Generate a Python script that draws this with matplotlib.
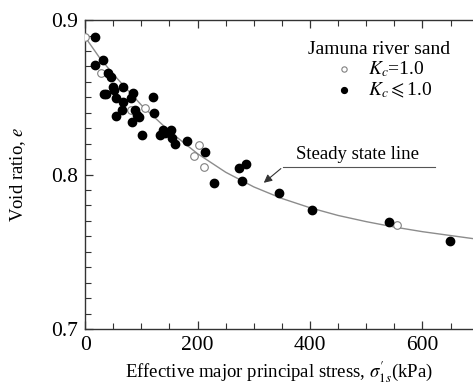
import numpy as np
import matplotlib
matplotlib.use("Agg")
import matplotlib.pyplot as plt
from matplotlib.ticker import MultipleLocator, FormatStrFormatter

plt.rcParams['font.family'] = ['Liberation Serif', 'DejaVu Serif']
plt.rcParams['mathtext.fontset'] = 'stix'

# Kc = 1.0 (open circles)
open_x = [0, 28, 81, 107, 194, 203, 212, 554]
open_y = [0.889, 0.8655, 0.842, 0.8428, 0.812, 0.8191, 0.8047, 0.7671]

# Kc <= 1.0 (filled circles)
fill_x = [17, 17, 31, 40, 46, 50, 52, 67, 85, 33, 37, 55, 67, 81, 120,
          66, 89, 123, 55, 92, 95, 83, 101, 138, 133, 142, 153, 154, 160,
          182, 213, 229, 274, 286, 279, 345, 404, 541, 649]
fill_y = [0.889, 0.871, 0.874, 0.8655, 0.863, 0.8564, 0.8547, 0.8564, 0.853,
          0.852, 0.852, 0.8493, 0.8467, 0.8493, 0.85, 0.8417, 0.842, 0.84,
          0.8379, 0.8385, 0.837, 0.8338, 0.8258, 0.8288, 0.8258, 0.827,
          0.8288, 0.8234, 0.8197, 0.822, 0.8148, 0.7947, 0.804, 0.8068,
          0.7958, 0.788, 0.777, 0.7693, 0.7572]

# steady state line
ssl_x = [0, 25, 50, 100, 150, 200, 250, 300, 350, 400, 450, 500, 550, 600, 650, 690]
ssl_y = [0.889, 0.876, 0.865, 0.845, 0.828, 0.8135, 0.8015, 0.792, 0.7845,
         0.7785, 0.7735, 0.7695, 0.766, 0.763, 0.7605, 0.7585]

fig = plt.figure(figsize=(4.73, 3.87), dpi=100)
ax = fig.add_axes([0.18, 0.15, 0.82, 0.798])

ax.plot(ssl_x, ssl_y, color='#8c8c8c', lw=1.0, zorder=1)
ax.scatter(open_x, open_y, s=30, facecolor='white', edgecolor='#808080',
           linewidth=0.8, zorder=3, label='$K_c$=1.0')
ax.scatter(fill_x, fill_y, s=36, color='black', zorder=3, label=r'$K_c \leqslant$1.0')

# steady state line label with leader
ax.annotate('', xy=(314, 0.7935), xytext=(352, 0.805),
            arrowprops=dict(arrowstyle='-|>', color='#333333', lw=0.8,
                            mutation_scale=12))
ax.plot([352, 622], [0.805, 0.805], color='#555555', lw=0.8, clip_on=False)
ax.text(484, 0.8075, 'Steady state line', fontsize=13.5, ha='center', va='bottom')

ax.set_xlim(0, 690)
ax.set_ylim(0.7, 0.9)
ax.xaxis.set_major_locator(MultipleLocator(200))
ax.xaxis.set_minor_locator(MultipleLocator(50))
ax.yaxis.set_major_locator(MultipleLocator(0.1))
ax.yaxis.set_minor_locator(MultipleLocator(0.01))
ax.yaxis.set_major_formatter(FormatStrFormatter('%.1f'))
ax.tick_params(which='both', direction='in', top=True, right=False,
               labelsize=15.5, color='#333333')
ax.tick_params(which='major', length=6, width=0.9, pad=5)
ax.tick_params(which='minor', length=4, width=0.8)
ax.spines['right'].set_visible(False)
for s in ['left', 'bottom', 'top']:
    ax.spines[s].set_color('#333333')
    ax.spines[s].set_linewidth(1.0)

ax.set_xlabel(r"Effective major principal stress, $\sigma^{\prime}_{1s}$(kPa)", fontsize=13.5, labelpad=3)
ax.set_ylabel('Void ratio, $e$', fontsize=13.5)
ax.yaxis.set_label_coords(-0.148, 0.5)

leg = ax.legend(title='Jamuna river sand', loc='upper right',
                bbox_to_anchor=(0.975, 0.975), frameon=False, fontsize=14,
                title_fontsize=14, handletextpad=0.2, labelspacing=0.05,
                borderpad=0.2, markerscale=0.7)

plt.savefig('out.png', dpi=100)
